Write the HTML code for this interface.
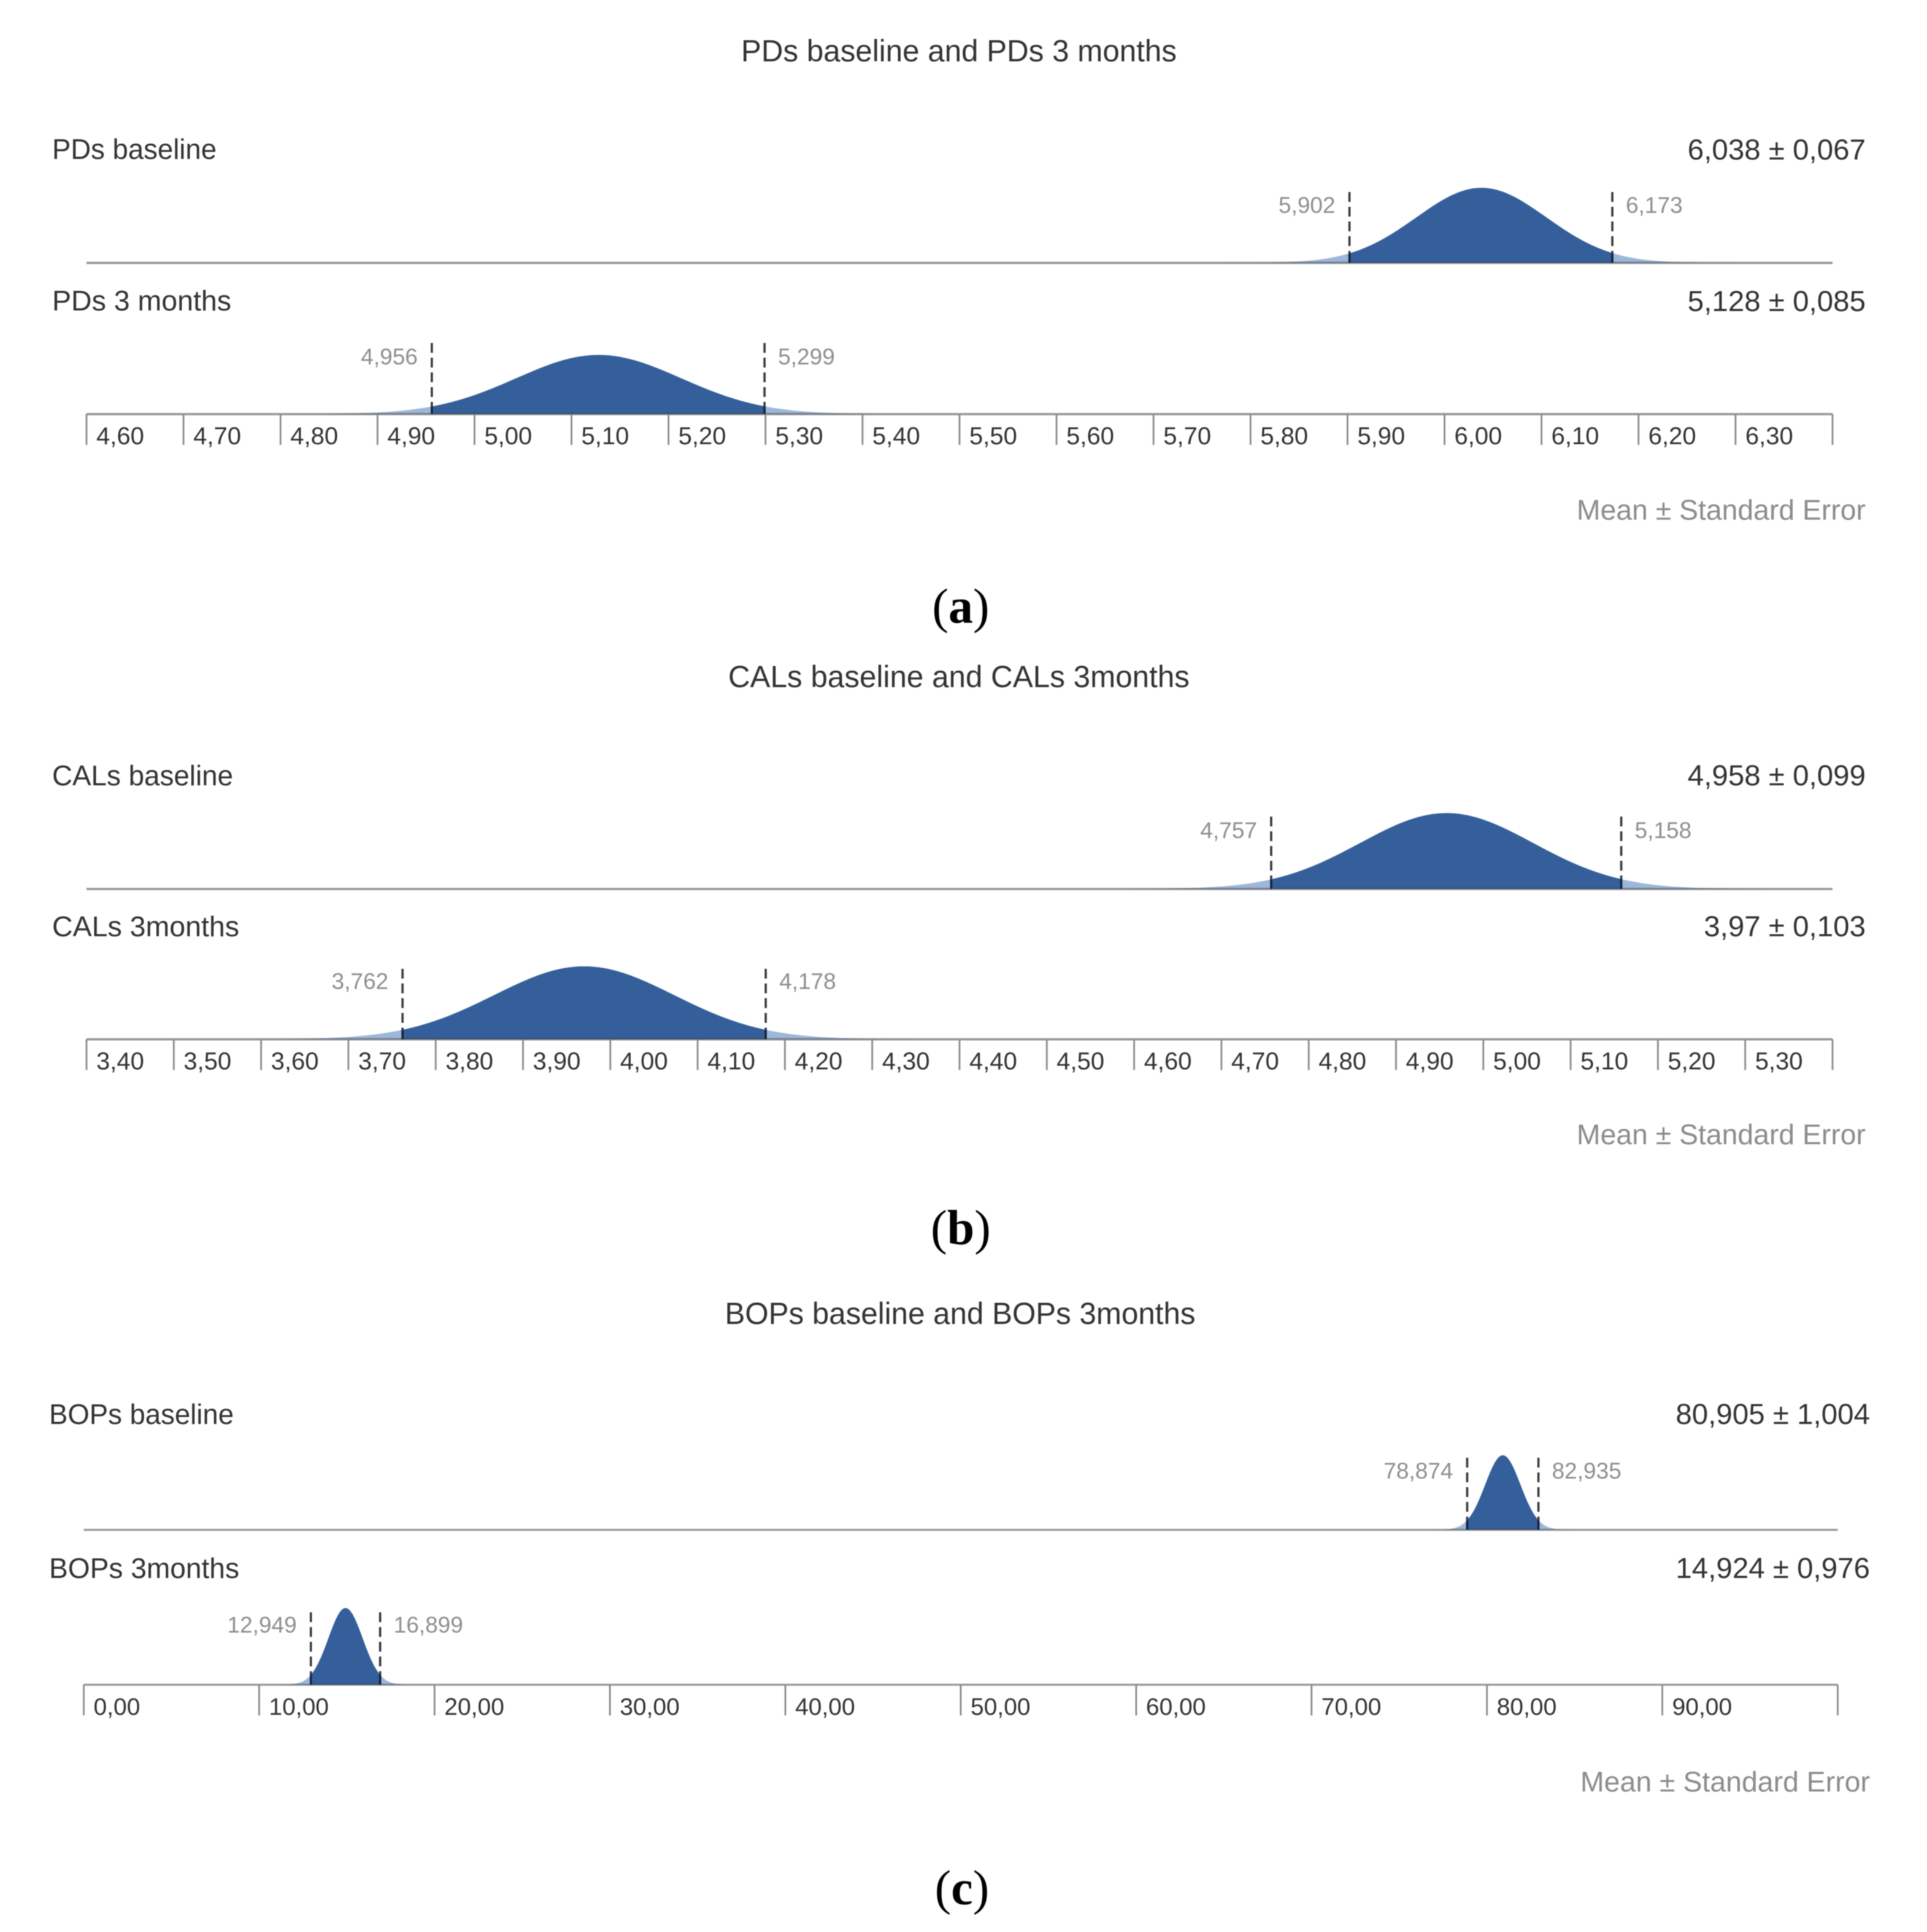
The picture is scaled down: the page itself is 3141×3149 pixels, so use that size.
<!DOCTYPE html>
<html lang="en">
<head>
<meta charset="utf-8">
<title>Mean and standard error distributions</title>
<style>
html,body{margin:0;padding:0;background:#fff;}
svg{display:block;font-family:"Liberation Sans",sans-serif;filter:blur(0.7px);}
.title{font-size:50px;fill:#333;text-anchor:middle;}
.row{font-size:46px;fill:#333;}
.note{font-size:46px;fill:#8c8c8c;text-anchor:end;}
.caption{font-family:"Liberation Serif",serif;font-size:80px;fill:#000;text-anchor:middle;}
</style>
</head>
<body>
<svg id="chart" xmlns="http://www.w3.org/2000/svg" width="3141" height="3149" viewBox="0 0 3141 3149">
  <rect width="3141" height="3149" fill="#fff"/>

  <text class="title" x="1563" y="100" textLength="710" lengthAdjust="spacingAndGlyphs">PDs baseline and PDs 3 months</text>
  <text class="row" x="85" y="259" textLength="268" lengthAdjust="spacingAndGlyphs">PDs baseline</text>
  <text class="row" x="85" y="506" textLength="292" lengthAdjust="spacingAndGlyphs">PDs 3 months</text>
  <text class="note" x="3041" y="847" textLength="471" lengthAdjust="spacingAndGlyphs">Mean ± Standard Error</text>
  <text class="caption" x="1566" y="1015">(<tspan font-weight="bold">a</tspan>)</text>

  <text class="title" x="1563" y="1120" textLength="752" lengthAdjust="spacingAndGlyphs">CALs baseline and CALs 3months</text>
  <text class="row" x="85" y="1280" textLength="295" lengthAdjust="spacingAndGlyphs">CALs baseline</text>
  <text class="row" x="85" y="1526" textLength="305" lengthAdjust="spacingAndGlyphs">CALs 3months</text>
  <text class="note" x="3041" y="1865" textLength="471" lengthAdjust="spacingAndGlyphs">Mean ± Standard Error</text>
  <text class="caption" x="1566" y="2028">(<tspan font-weight="bold">b</tspan>)</text>

  <text class="title" x="1565" y="2158" textLength="767" lengthAdjust="spacingAndGlyphs">BOPs baseline and BOPs 3months</text>
  <text class="row" x="80" y="2321" textLength="301" lengthAdjust="spacingAndGlyphs">BOPs baseline</text>
  <text class="row" x="80" y="2572" textLength="310" lengthAdjust="spacingAndGlyphs">BOPs 3months</text>
  <text class="note" x="3048" y="2920" textLength="472" lengthAdjust="spacingAndGlyphs">Mean ± Standard Error</text>
  <text class="caption" x="1568" y="3104">(<tspan font-weight="bold">c</tspan>)</text>
</svg>

<script>
// Panel (a) data
const panelATicks = [4.6,4.7,4.8,4.9,5.0,5.1,5.2,5.3,5.4,5.5,5.6,5.7,5.8,5.9,6.0,6.1,6.2,6.3];
const panelAMeans = [6.038,5.128];
const panelAErrors = [0.067,0.085];
const panelALowers = [5.902,4.956];
const panelAUppers = [6.173,5.299];

// Panel (b) data
const panelBTicks = [3.4,3.5,3.6,3.7,3.8,3.9,4.0,4.1,4.2,4.3,4.4,4.5,4.6,4.7,4.8,4.9,5.0,5.1,5.2,5.3];
const panelBMeans = [4.958,3.97];
const panelBErrors = [0.099,0.103];
const panelBLowers = [4.757,3.762];
const panelBUppers = [5.158,4.178];

// Panel (c) data
const panelCTicks = [0,10,20,30,40,50,60,70,80,90];
const panelCMeans = [80.905,14.924];
const panelCErrors = [1.004,0.976];
const panelCLowers = [78.874,12.949];
const panelCUppers = [82.935,16.899];

const svgNS = 'http://www.w3.org/2000/svg';
const chart = document.getElementById('chart');

function make(tag, attrs, parent) {
  const el = document.createElementNS(svgNS, tag);
  for (const k in attrs) el.setAttribute(k, attrs[k]);
  parent.appendChild(el);
  return el;
}
function decimal(v) { return String(v).replace('.', ','); }
function tickText(v) { return v.toFixed(2).replace('.', ','); }

function drawPanel(p) {
  const axisEnd = p.domainEnd;
  const axisStart = p.ticks[0];
  const xScale = v => p.left + (v - axisStart) / (axisEnd - axisStart) * (p.right - p.left);

  p.means.forEach(function (mean, i) {
    const se = p.errors[i];
    const baseY = p.baseYs[i];
    const lo = p.lowers[i];
    const hi = p.uppers[i];
    const peak = p.density / se;
    const yScale = v => baseY - peak * Math.exp(-0.5 * Math.pow((v - mean) / se, 2));
    const curve = function (a, b) {
      const n = 120;
      let d = 'M' + xScale(a).toFixed(1) + ' ' + baseY;
      for (let k = 0; k <= n; k++) {
        const v = a + (b - a) * k / n;
        d += ' L' + xScale(v).toFixed(1) + ' ' + yScale(v).toFixed(1);
      }
      return d + ' L' + xScale(b).toFixed(1) + ' ' + baseY + ' Z';
    };

    const tails = make('path', {d: curve(mean - 4.5 * se, mean + 4.5 * se), fill: '#9db7db'}, chart);
    
    

    const core = make('path', {d: curve(lo, hi), fill: '#345f9b'}, chart);
    
    

    const base = make('line', {x1: p.left, x2: p.right, y1: baseY, y2: baseY, stroke: 'rgba(60,60,60,0.52)', 'stroke-width': p.lineWidth}, chart);
    
    

    [[lo, 'end', -23], [hi, 'start', 22]].forEach(function (bound) {
      const x = xScale(bound[0]);
      const dash = make('line', {x1: x, x2: x, y1: p.dashTops[i], y2: yScale(bound[0]), stroke: '#3a3a3a', 'stroke-width': 3.6, 'stroke-dasharray': '16 8'}, chart);
      
      

      const inner = make('line', {x1: x, x2: x, y1: yScale(bound[0]), y2: baseY, stroke: '#14233c', 'stroke-width': 3.6}, chart);
      
      

      const label = make('text', {x: x + bound[2], y: p.boundYs[i], 'text-anchor': bound[1], 'font-size': p.boundFont, fill: '#8f8f8f'}, chart);
      
      
      label.textContent = decimal(bound[0]);
    });

    const value = make('text', {x: p.valueRight, y: p.rowYs[i], 'text-anchor': 'end', 'font-size': 47.5, fill: '#333'}, chart);
    
    
    value.textContent = decimal(mean) + ' ± ' + decimal(se).padEnd(5, '0');
  });

  const axisY = p.baseYs[1];
  p.ticks.concat([axisEnd]).forEach(function (t, i) {
    const x = xScale(t);
    const tick = make('line', {x1: x, x2: x, y1: axisY, y2: axisY + 50, stroke: '#8a8a8a', 'stroke-width': 2.8}, chart);
    
    
    if (i < p.ticks.length) {
      const label = make('text', {x: x + 16, y: axisY + 49, 'font-size': p.tickFont, fill: '#333'}, chart);
      
      
      label.textContent = tickText(t);
    }
  });
}

drawPanel({
  ticks: panelATicks, means: panelAMeans, errors: panelAErrors, lowers: panelALowers, uppers: panelAUppers,
  domainEnd: 6.4, left: 141, right: 2987, baseYs: [428.5, 675], dashTops: [313, 559], boundYs: [347, 594],
  rowYs: [260, 507], valueRight: 3041, density: 8.2, boundFont: 37, tickFont: 40, lineWidth: 3.8
});
drawPanel({
  ticks: panelBTicks, means: panelBMeans, errors: panelBErrors, lowers: panelBLowers, uppers: panelBUppers,
  domainEnd: 5.4, left: 141, right: 2987, baseYs: [1449, 1694], dashTops: [1331, 1579], boundYs: [1366, 1612],
  rowYs: [1280, 1526], valueRight: 3041, density: 12.25, boundFont: 37, tickFont: 40, lineWidth: 3.8
});
drawPanel({
  ticks: panelCTicks, means: panelCMeans, errors: panelCErrors, lowers: panelCLowers, uppers: panelCUppers,
  domainEnd: 100, left: 136.5, right: 2995.5, baseYs: [2493.5, 2746], dashTops: [2376, 2628], boundYs: [2410, 2661],
  rowYs: [2321, 2572], valueRight: 3048, density: 122, boundFont: 37, tickFont: 39, lineWidth: 3.2
});
</script>
</body>
</html>
